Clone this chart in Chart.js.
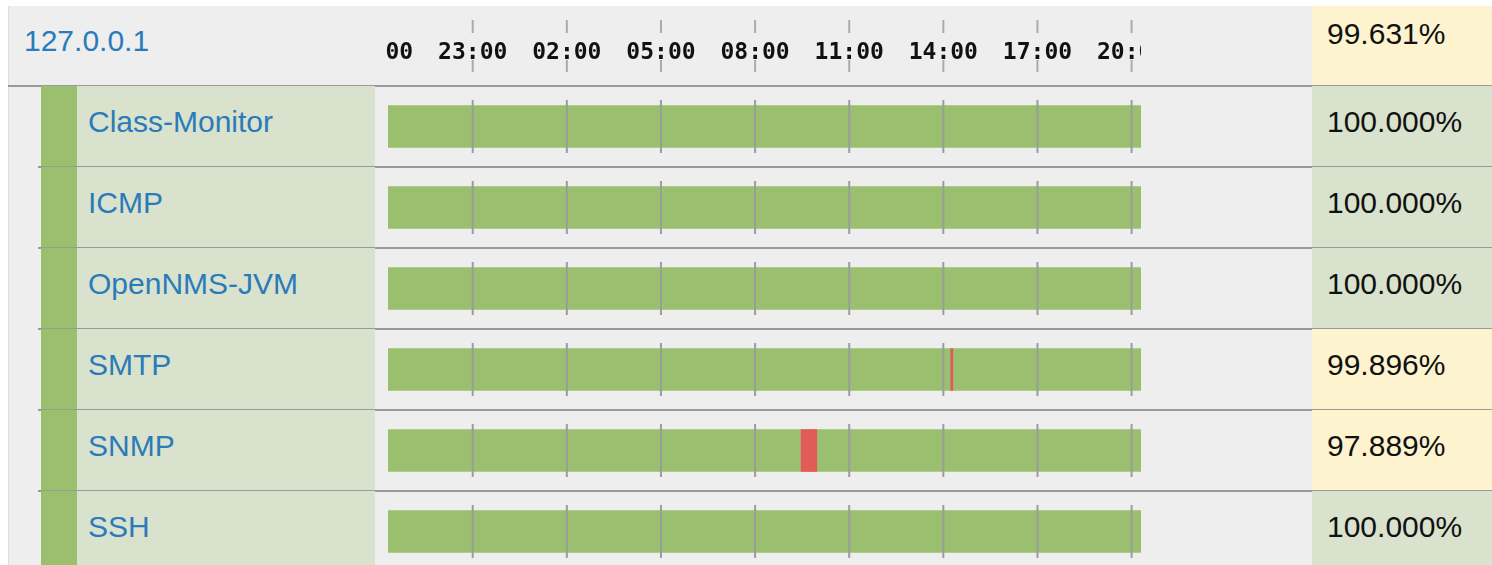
<!DOCTYPE html>
<html>
<head>
<meta charset="utf-8">
<script src="https://cdn.jsdelivr.net/npm/chart.js@4/dist/chart.umd.min.js"></script>
<style>
  html, body { margin: 0; padding: 0; background: #ffffff; overflow: hidden; width: 1492px; height: 565px; }
  .abs { position: absolute; box-sizing: border-box; }
  .txt { position: absolute; white-space: nowrap; font-family: "Liberation Sans", Arial, sans-serif; font-size: 30px; line-height: 30px; }
  .blue { color: #2b7bba; }
  .black { color: #111111; }
  #chartCanvas { position: absolute; left: 386px; top: 6px; }
</style>
</head>
<body>
<div id="table"></div>
<canvas id="chartCanvas" width="755" height="566"></canvas>
<script>
// ---------------- data ----------------
const nodeName = '127.0.0.1';
const nodeAvailability = 99.631;
const services = ['Class-Monitor', 'ICMP', 'OpenNMS-JVM', 'SMTP', 'SNMP', 'SSH'];
const availability = [100.000, 100.000, 100.000, 99.896, 97.889, 100.000];
// time in minutes since midnight of the first day (window 20:18 -> 20:18 next day)
const windowStart = 1218;
const windowEnd = 2658;
const upSegments = [
  [1218, 2658], [1218, 2658], [1218, 2658], [1218, 2658], [1218, 2658], [1218, 2658]
];
const outageSegments = [null, null, null, [2294, 2298], [2008, 2038], null];
const tickValues = [1200, 1380, 1560, 1740, 1920, 2100, 2280, 2460, 2640];

// ---------------- styles ----------------
const GREEN = '#9abf6f';
const LIGHT_GREEN = '#d9e2cd';
const YELLOW = '#fdf3cf';
const RED = '#e35b59';
const SEP = '#9a9a9a';

// ---------------- table (html) ----------------
const table = document.getElementById('table');
function box(l, t, w, h, bg) {
  const d = document.createElement('div');
  d.className = 'abs';
  d.style.cssText = `left:${l}px;top:${t}px;width:${w}px;height:${h}px;background:${bg};`;
  table.appendChild(d);
  return d;
}
function text(str, l, t, cls) {
  const d = document.createElement('div');
  d.className = 'txt ' + cls;
  d.style.left = l + 'px';
  d.style.top = t + 'px';
  d.textContent = str;
  table.appendChild(d);
}
const fmtPct = v => v.toFixed(3) + '%';

const outer = box(8, 6, 1484, 600, '#eeeeee');
outer.style.borderLeft = '1px solid #dcdcdc';
// header
box(1312, 6, 180, 80, nodeAvailability < 100 ? YELLOW : LIGHT_GREEN);
text(nodeName, 24, 26, 'blue');
text(fmtPct(nodeAvailability), 1327, 19, 'black');
box(8, 85, 1484, 2, SEP);

const ROW0 = 86, ROWH = 81;
services.forEach((s, i) => {
  const top = ROW0 + i * ROWH;
  box(41, top, 36, ROWH, GREEN);
  box(77, top, 298, ROWH, LIGHT_GREEN);
  box(1312, top, 180, ROWH, availability[i] < 100 ? YELLOW : LIGHT_GREEN);
  text(s, 88, top + 21, 'blue');
  text(fmtPct(availability[i]), 1327, top + 21, 'black');
  box(38, top + ROWH - 1, 1454, 2, SEP);
});

// ---------------- chart ----------------
const fmtHour = v => {
  const h = Math.floor(((v % 1440) + 1440) % 1440 / 60);
  return String(h).padStart(2, '0') + ':00';
};

const rowGrid = {
  id: 'rowGrid',
  afterDatasetsDraw(chart) {
    const ctx = chart.ctx;
    const xs = chart.scales.x, ys = chart.scales.y;
    ctx.save();
    ctx.lineWidth = 2;
    const seg = (x, y1, y2) => { ctx.beginPath(); ctx.moveTo(x, y1); ctx.lineTo(x, y2); ctx.stroke(); };
    xs.ticks.forEach(t => {
      const px = xs.getPixelForValue(t.value);
      ctx.strokeStyle = '#ababab';
      seg(px, 14, 27);
      seg(px, 54, 66);
      ctx.strokeStyle = '#9c9c9c';
      services.forEach((s, i) => {
        const cy = ys.getPixelForValue(i);
        seg(px, cy - 26.5, cy + 26.5);
      });
    });
    ctx.restore();
  }
};

new Chart(document.getElementById('chartCanvas'), {
  type: 'bar',
  data: {
    labels: services,
    datasets: [
      { label: 'Outage', data: outageSegments, backgroundColor: RED, order: 1, grouped: false, barThickness: 42, borderWidth: 0 },
      { label: 'Available', data: upSegments, backgroundColor: GREEN, order: 2, grouped: false, barThickness: 42, borderWidth: 0 }
    ]
  },
  options: {
    indexAxis: 'y',
    responsive: false,
    animation: false,
    devicePixelRatio: 1,
    layout: { padding: { left: 2, right: 0, top: 0, bottom: 0 } },
    plugins: { legend: { display: false }, tooltip: { enabled: false } },
    scales: {
      x: {
        type: 'linear',
        position: 'top',
        min: windowStart,
        max: windowEnd,
        bounds: 'data',
        grid: { display: false, drawTicks: false },
        border: { display: false },
        afterBuildTicks: s => { s.ticks = tickValues.map(v => ({ value: v })); },
        afterFit: s => { s.height = 80; s.paddingLeft = 0; s.paddingRight = 0; },
        ticks: {
          autoSkip: false, maxRotation: 0, minRotation: 0,
          color: '#111111',
          font: { family: 'DejaVu Sans Mono', size: 23, weight: 'bold' },
          padding: 19,
          callback: v => fmtHour(v)
        }
      },
      y: { display: false }
    }
  },
  plugins: [rowGrid]
});
</script>
</body>
</html>
